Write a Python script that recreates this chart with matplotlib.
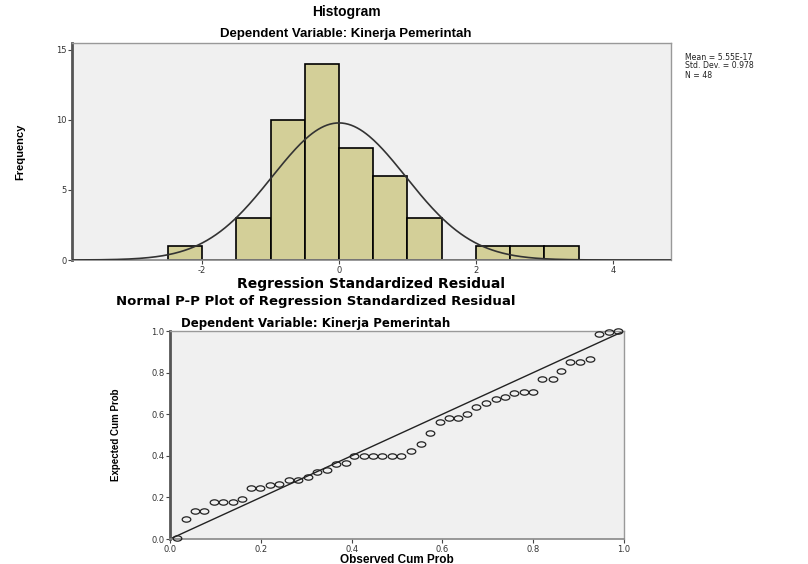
import numpy as np
import matplotlib
matplotlib.use("Agg")
import matplotlib.pyplot as plt
from matplotlib.path import Path
from matplotlib.transforms import Affine2D

# histogram data (bins of width 0.5)
bin_left = [-2.5, -2.0, -1.5, -1.0, -0.5, 0.0, 0.5, 1.0, 1.5, 2.0, 2.5, 3.0]
counts = [1, 0, 3, 10, 14, 8, 6, 3, 0, 1, 1, 1]
bin_width = 0.5
mean_res = 5.55e-17
std_res = 0.978
n_obs = 48

# P-P plot data
observed = [0.015, 0.035, 0.054, 0.075, 0.096, 0.117, 0.138, 0.159, 0.178, 0.199,
            0.221, 0.241, 0.261, 0.282, 0.303, 0.324, 0.345, 0.366, 0.387, 0.406,
            0.427, 0.448, 0.468, 0.489, 0.509, 0.530, 0.552, 0.573, 0.594, 0.614,
            0.634, 0.655, 0.675, 0.696, 0.717, 0.738, 0.758, 0.779, 0.800, 0.819,
            0.843, 0.862, 0.882, 0.903, 0.925, 0.945, 0.966, 0.987]
expected = [0.003, 0.096, 0.133, 0.133, 0.180, 0.180, 0.180, 0.190, 0.247, 0.247,
            0.258, 0.263, 0.282, 0.282, 0.300, 0.320, 0.330, 0.359, 0.367, 0.400,
            0.400, 0.400, 0.400, 0.400, 0.400, 0.423, 0.455, 0.511, 0.561, 0.582,
            0.582, 0.600, 0.636, 0.652, 0.675, 0.683, 0.702, 0.708, 0.708, 0.769,
            0.769, 0.808, 0.851, 0.851, 0.867, 0.987, 0.997, 1.000]

plt.rcParams["axes.unicode_minus"] = False

bg = "#f0f0f0"
bar_color = "#d3cf98"
spine_gray = "#555555"
wide_bold = "DejaVu Sans"
narrow_font = "Liberation Sans"

fig = plt.figure(figsize=(8.08, 5.64), dpi=100)


def style_axes(ax):
    ax.set_facecolor(bg)
    for s in ["top", "right"]:
        ax.spines[s].set_color("#999999")
        ax.spines[s].set_linewidth(1.0)
    ax.spines["left"].set_color(spine_gray)
    ax.spines["left"].set_linewidth(2.0)
    ax.spines["bottom"].set_color("#888888")
    ax.spines["bottom"].set_linewidth(1.2)
    ax.tick_params(direction="out", length=3, width=0.8, color="#444444",
                   labelsize=6, labelcolor="#333333", pad=1)


# ---- Histogram ----
ax1 = fig.add_axes([0.0891, 0.539, 0.7413, 0.3848])
ax1.bar(bin_left, counts, width=bin_width, align="edge", color=bar_color,
        edgecolor="black", linewidth=1.2, zorder=2)
xs = np.linspace(-3.9, 4.85, 400)
pdf = n_obs * bin_width * np.exp(-0.5 * ((xs - mean_res) / std_res) ** 2) / (std_res * np.sqrt(2 * np.pi))
ax1.plot(xs, pdf, color="#333333", linewidth=1.2, zorder=3)
ax1.set_xlim(-3.9, 4.85)
ax1.set_ylim(0, 15.5)
ax1.set_xticks([-2, 0, 2, 4])
ax1.set_yticks([0, 5, 10, 15])
style_axes(ax1)
ax1.set_xlabel("Regression Standardized Residual", family=wide_bold,
               fontweight="bold", fontsize=10, labelpad=2)
ax1.set_ylabel("Frequency", family=narrow_font, fontweight="bold",
               fontsize=8, labelpad=22)

fig.text(346 / 808, 1 - 12 / 564, "Histogram", ha="center", va="center",
         family="Liberation Sans", fontweight="bold", fontsize=10)
fig.text(346 / 808, 1 - 34 / 564, "Dependent Variable: Kinerja Pemerintah",
         ha="center", va="center", family="Liberation Sans", fontweight="bold",
         fontsize=9.5)
fig.text(685 / 808, 1 - 66 / 564,
         "Mean = 5.55E-17\nStd. Dev. = 0.978\nN = 48",
         ha="left", va="center", family="DejaVu Sans", fontsize=5.6,
         linespacing=1.0, color="#222222")

# ---- P-P plot ----
ax2 = fig.add_axes([0.2104, 0.0443, 0.5619, 0.3688])
ax2.plot([0, 1], [0, 1], color="#222222", linewidth=1.0, zorder=2)
circle = Path.unit_circle()
ellipse = circle.transformed(Affine2D().scale(1.0, 0.62))
ax2.plot(observed, expected, linestyle="none", marker=ellipse, markersize=6.2,
         markerfacecolor="none", markeredgecolor="#222222", markeredgewidth=0.9,
         clip_on=False, zorder=3)
ax2.set_xlim(0, 1)
ax2.set_ylim(0, 1)
ax2.set_xticks([0, 0.2, 0.4, 0.6, 0.8, 1.0])
ax2.set_yticks([0, 0.2, 0.4, 0.6, 0.8, 1.0])
ax2.xaxis.set_major_formatter(matplotlib.ticker.FormatStrFormatter("%.1f"))
ax2.yaxis.set_major_formatter(matplotlib.ticker.FormatStrFormatter("%.1f"))
style_axes(ax2)
ax2.set_xlabel("Observed Cum Prob", family="Liberation Sans", fontweight="bold",
               fontsize=8.5, labelpad=0)
ax2.set_ylabel("Expected Cum Prob", family=narrow_font, fontweight="bold",
               fontsize=7, labelpad=22)

fig.text(316 / 808, 1 - 301 / 564,
         "Normal P-P Plot of Regression Standardized Residual",
         ha="center", va="center", family=wide_bold, fontweight="bold", fontsize=9.5)
fig.text(316 / 808, 1 - 323 / 564, "Dependent Variable: Kinerja Pemerintah",
         ha="center", va="center", family=wide_bold, fontweight="bold", fontsize=8.5)

fig.savefig("out.png", dpi=100, facecolor="white")
